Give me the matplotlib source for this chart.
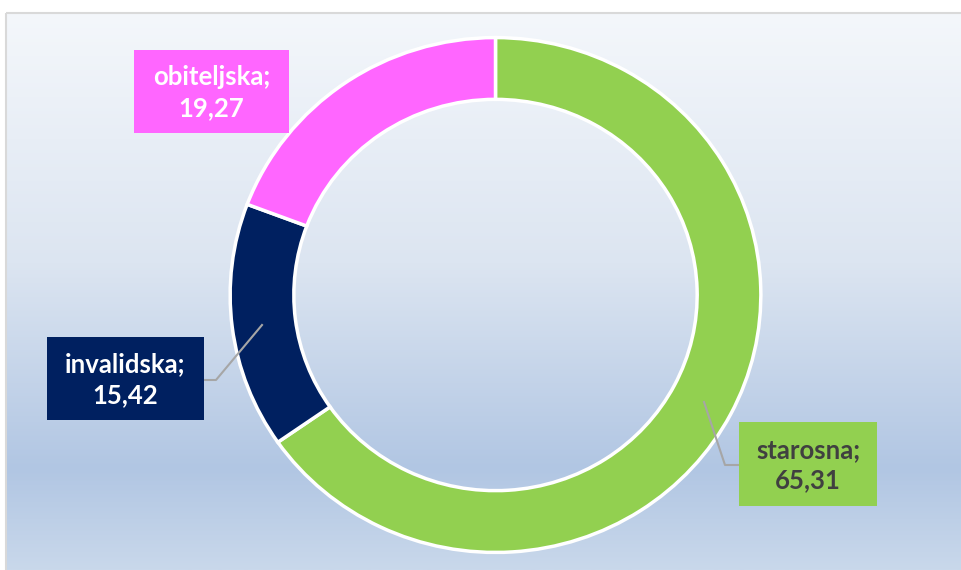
import numpy as np
import matplotlib
matplotlib.use("Agg")
import matplotlib.pyplot as plt
from matplotlib.patches import Rectangle
from matplotlib.colors import LinearSegmentedColormap

categories = ["starosna", "invalidska", "obiteljska"]
values = [65.31, 15.42, 19.27]
value_labels = ["65,31", "15,42", "19,27"]
colors = ["#92D050", "#002060", "#FF66FF"]
text_colors = ["#404040", "#FFFFFF", "#FFFFFF"]

W, H = 961, 570
fig = plt.figure(figsize=(W / 100, H / 100), dpi=100)
fig.patch.set_facecolor("white")

# background overlay axes in pixel coordinates
bg = fig.add_axes([0, 0, 1, 1])
bg.set_xlim(0, W)
bg.set_ylim(H, 0)
bg.axis("off")
cmap = LinearSegmentedColormap.from_list(
    "bg", [(0.0, "#F4F7FB"), (0.45, "#DCE5F1"), (0.82, "#B1C6E3"), (1.0, "#C9D8EB")])
grad = np.linspace(0, 1, 256).reshape(-1, 1)
bg.imshow(grad, cmap=cmap, extent=(6, W + 2, H, 13), aspect="auto", zorder=0)
bg.add_patch(Rectangle((5.5, 12.5), W, H, fill=False, edgecolor="#D9D9D9", lw=1.5, zorder=1))
bg.set_xlim(0, W)
bg.set_ylim(H, 0)

# donut axes
cx, cy, rx, ry = 495.5, 295, 268, 260
ax = fig.add_axes([(cx - rx) / W, 1 - (cy + ry) / H, 2 * rx / W, 2 * ry / H])
wedges, _ = ax.pie(values, colors=colors, startangle=90, counterclock=False,
                   radius=1.0, wedgeprops=dict(width=0.24, edgecolor="white", linewidth=2.5))
ax.set_aspect("auto")
ax.set_xlim(-1.01, 1.01)
ax.set_ylim(-1.01, 1.01)
ax.axis("off")
ax.patch.set_alpha(0)

# labels
ov = fig.add_axes([0, 0, 1, 1])
ov.set_xlim(0, W)
ov.set_ylim(H, 0)
ov.axis("off")
ov.patch.set_alpha(0)
boxes = {"starosna": (739, 422, 138, 84), "invalidska": (47, 337, 157, 83), "obiteljska": (134, 50, 155, 83)}
for cat, val, col, tc in zip(categories, value_labels, colors, text_colors):
    x, y, w, h = boxes[cat]
    ov.add_patch(Rectangle((x, y), w, h, facecolor=col, edgecolor="none", zorder=3))
    ov.text(x + w / 2, y + h / 2 + 1, f"{cat};\n{val}", ha="center", va="center",
            color=tc, fontsize=18.5, fontweight="bold", family="Lato", linespacing=1.32, zorder=4)

# leader lines
ov.plot([204, 216, 262], [380, 380, 325], color="#A6A6A6", lw=1.5, zorder=2)
ov.plot([704, 725, 739], [402, 465, 465], color="#A6A6A6", lw=1.5, zorder=2)

fig.savefig("out.png", dpi=100)
